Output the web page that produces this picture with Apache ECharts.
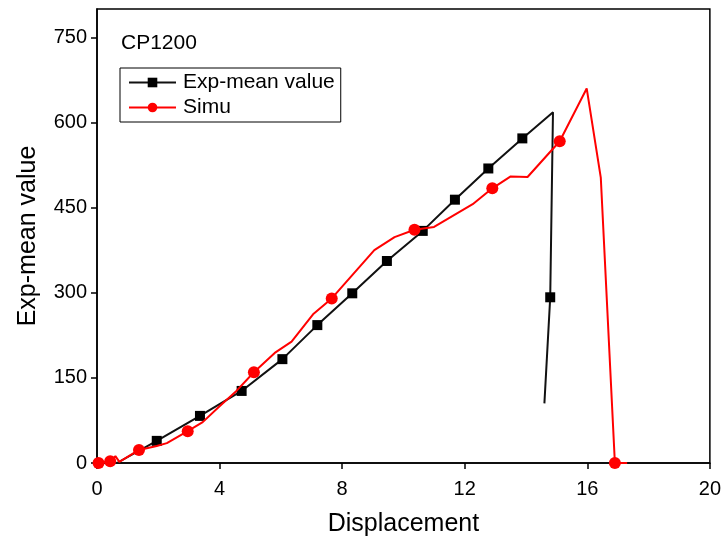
<!DOCTYPE html>
<html>
<head>
<meta charset="utf-8">
<script src="https://cdn.jsdelivr.net/npm/echarts@6/dist/echarts.min.js"></script>
<style>
  html, body { margin: 0; padding: 0; background: #fff; }
  #chart { width: 724px; height: 542px; }
</style>
</head>
<body>
<div id="chart"></div>
<script>
// values
const expX = [0.65, 1.95, 3.36, 4.72, 6.05, 7.19, 8.33, 9.46, 10.63, 11.68, 12.77, 13.88, 14.88, 14.79, 14.6];
const expY = [0, 39, 83, 127, 183, 243, 299, 356, 409, 464, 519, 572, 618, 292, 105];
const expMark = [0, 1, 1, 1, 1, 1, 1, 1, 1, 1, 1, 1, 0, 1, 0];

const simX = [0.05, 0.43, 0.6, 0.73, 1.37, 1.95, 2.28, 2.96, 3.45, 4.0, 4.55, 5.12, 5.8, 6.35, 7.05, 7.66, 9.05, 9.71, 10.36, 11.0, 12.26, 12.9, 13.5, 14.05, 15.1, 15.98, 16.44, 16.9, 17.3];
const simY = [0, 3, 12, 2, 23, 30, 35, 56, 72, 100, 127, 160, 194, 214, 262, 290, 375, 398, 411, 416, 456, 484, 505, 504, 567, 660, 503, 0, 0];
const simMark = [1, 1, 0, 0, 1, 0, 0, 1, 0, 0, 0, 1, 0, 0, 0, 1, 0, 0, 1, 0, 0, 1, 0, 0, 1, 0, 0, 1, 0];

const yTicks = [0, 150, 300, 450, 600, 750];
const xTicks = [0, 4, 8, 12, 16, 20];

const font = "'Liberation Sans', Arial, sans-serif";

function build(xs, ys, marks) {
    return xs.map((x, i) => (marks[i] ? [x, ys[i]] : { value: [x, ys[i]], symbol: "none" }));
}

const chart = echarts.init(document.getElementById("chart"));

chart.setOption({
    animation: false,
    backgroundColor: "#fff",
    grid: {
        left: 97, right: 13, top: 9, bottom: 78,
        show: true, borderColor: "#000", borderWidth: 1.5,
    },
    graphic: [{
        type: "text", left: 121, top: 33,
        style: { text: "CP1200", font: "21px " + font, fill: "#000" },
    }],
    legend: {
        orient: "vertical",
        left: 120, top: 68,
        padding: [4, 6, 4, 8],
        itemWidth: 47, itemHeight: 12, itemGap: 4,
        borderColor: "#000", borderWidth: 1,
        textStyle: { fontFamily: font, fontSize: 21, color: "#000", padding: [0, 0, 0, 2] },
        data: ["Exp-mean value", "Simu"],
    },
    xAxis: {
        type: "value", min: 0, max: 20, interval: 4,
        name: "Displacement", nameLocation: "middle", nameGap: 49,
        nameTextStyle: { fontFamily: font, fontSize: 25, color: "#000" },
        axisLine: { lineStyle: { color: "#000", width: 1.5 } },
        axisTick: { show: true, length: 6, lineStyle: { color: "#000", width: 1.5 }, customValues: xTicks },
        axisLabel: { fontFamily: font, fontSize: 20, color: "#000", margin: 16, customValues: xTicks },
        splitLine: { show: false },
    },
    yAxis: {
        type: "value", min: 0, max: 800, interval: 150,
        name: "Exp-mean value", nameLocation: "middle", nameGap: 56,
        nameTextStyle: { fontFamily: font, fontSize: 25, color: "#000" },
        axisLine: { show: true, lineStyle: { color: "#000", width: 1.5 } },
        axisTick: { show: true, length: 6, lineStyle: { color: "#000", width: 1.5 }, customValues: yTicks },
        axisLabel: { fontFamily: font, fontSize: 20, color: "#000", margin: 10, customValues: yTicks },
        splitLine: { show: false },
    },
    series: [
        {
            name: "Exp-mean value", type: "line",
            data: build(expX, expY, expMark),
            symbol: "rect", symbolSize: 10, showAllSymbol: true,
            itemStyle: { color: "#000" },
            lineStyle: { color: "#111", width: 2 },
            z: 3,
        },
        {
            name: "Simu", type: "line",
            data: build(simX, simY, simMark),
            symbol: "circle", symbolSize: 12, showAllSymbol: true,
            itemStyle: { color: "#ff0000" },
            lineStyle: { color: "#ff0000", width: 2 },
            z: 4,
        },
    ],
});
</script>
</body>
</html>
